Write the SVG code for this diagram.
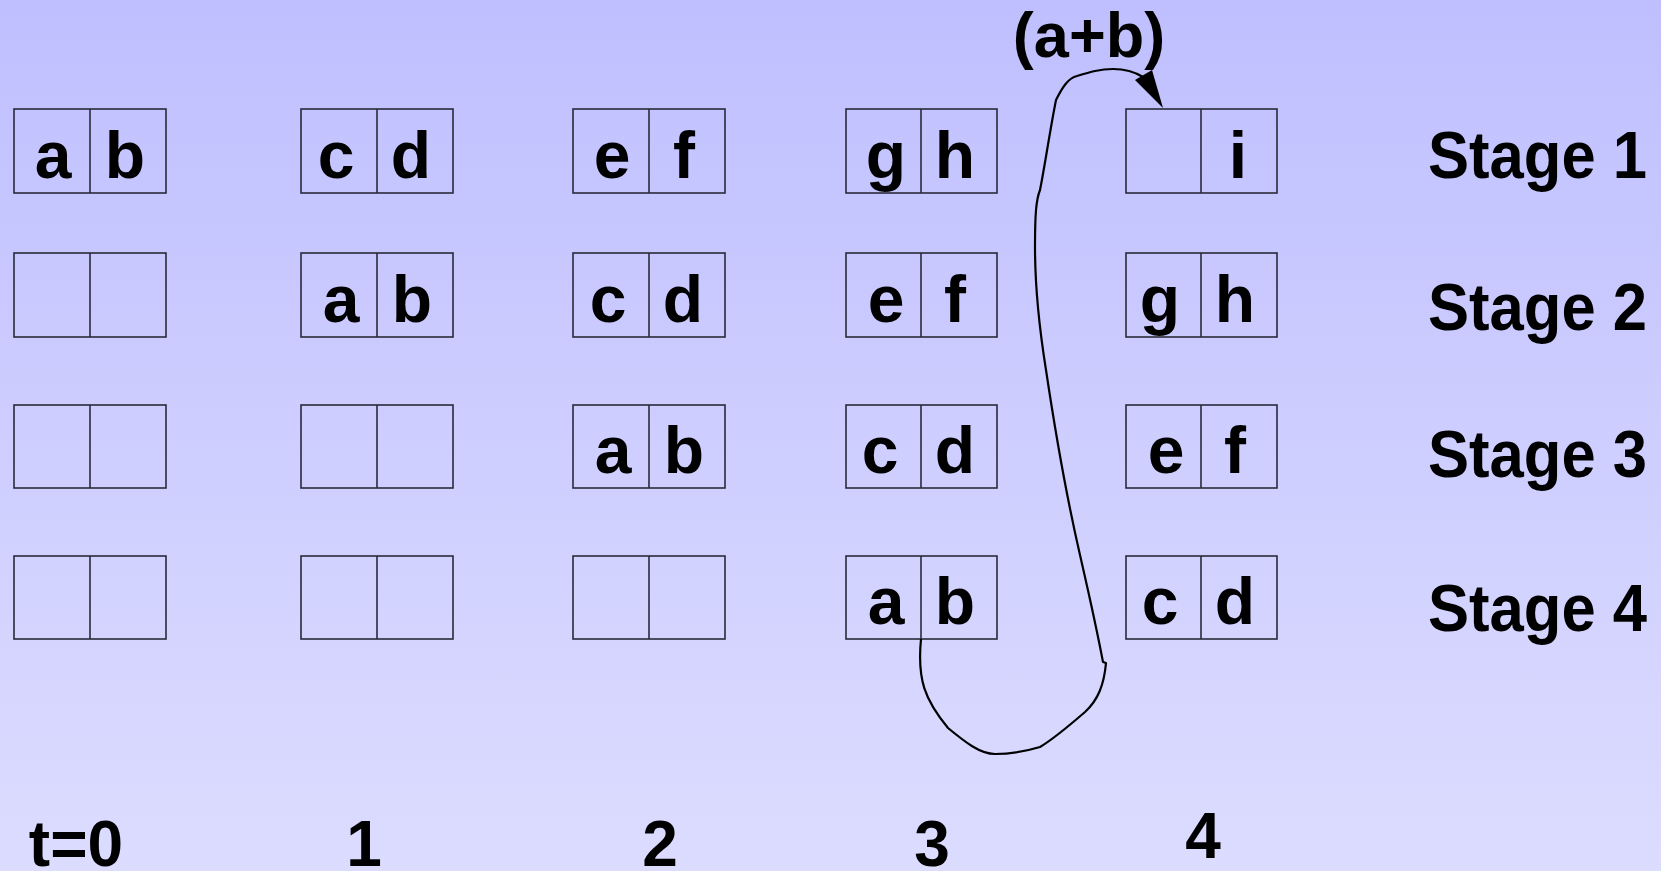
<svg xmlns="http://www.w3.org/2000/svg" width="1661" height="871" viewBox="0 0 1661 871">
<defs>
<linearGradient id="bg" x1="0" y1="0" x2="0" y2="1">
<stop offset="0" stop-color="#bfbfff"/>
<stop offset="1" stop-color="#dcdcff"/>
</linearGradient>
<style>
.box{fill:none;stroke:#2a2a3a;stroke-width:1.6}
.cell{font-family:"Liberation Sans",Arial,sans-serif;font-weight:bold;font-size:66px;fill:#000;text-anchor:middle}
.lbl{font-family:"Liberation Sans",Arial,sans-serif;font-weight:bold;font-size:61px;fill:#000}
.time{font-family:"Liberation Sans",Arial,sans-serif;font-weight:bold;font-size:64px;fill:#000;text-anchor:middle}
.conn{fill:none;stroke:#000;stroke-width:2.2;stroke-linejoin:round}
</style>
</defs>
<rect x="0" y="0" width="1661" height="871" fill="url(#bg)"/>

<!-- Row 1 -->
<g id="r1c1"><rect class="box" x="14" y="109" width="152" height="84"/><line class="box" x1="90" y1="109" x2="90" y2="193"/><text class="cell" x="53" y="178">a</text><text class="cell" x="125" y="178">b</text></g>
<g id="r1c2"><rect class="box" x="301" y="109" width="152" height="84"/><line class="box" x1="377" y1="109" x2="377" y2="193"/><text class="cell" x="336" y="178">c</text><text class="cell" x="411" y="178">d</text></g>
<g id="r1c3"><rect class="box" x="573" y="109" width="152" height="84"/><line class="box" x1="649" y1="109" x2="649" y2="193"/><text class="cell" x="612" y="178">e</text><text class="cell" x="684" y="178">f</text></g>
<g id="r1c4"><rect class="box" x="846" y="109" width="151" height="84"/><line class="box" x1="921" y1="109" x2="921" y2="193"/><text class="cell" x="886" y="178">g</text><text class="cell" x="955" y="178">h</text></g>
<g id="r1c5"><rect class="box" x="1126" y="109" width="151" height="84"/><line class="box" x1="1201" y1="109" x2="1201" y2="193"/><text class="cell" x="1238" y="178">i</text></g>

<!-- Row 2 -->
<g id="r2c1"><rect class="box" x="14" y="253" width="152" height="84"/><line class="box" x1="90" y1="253" x2="90" y2="337"/></g>
<g id="r2c2"><rect class="box" x="301" y="253" width="152" height="84"/><line class="box" x1="377" y1="253" x2="377" y2="337"/><text class="cell" x="341" y="322">a</text><text class="cell" x="412" y="322">b</text></g>
<g id="r2c3"><rect class="box" x="573" y="253" width="152" height="84"/><line class="box" x1="649" y1="253" x2="649" y2="337"/><text class="cell" x="608" y="322">c</text><text class="cell" x="683" y="322">d</text></g>
<g id="r2c4"><rect class="box" x="846" y="253" width="151" height="84"/><line class="box" x1="921" y1="253" x2="921" y2="337"/><text class="cell" x="886" y="322">e</text><text class="cell" x="955" y="322">f</text></g>
<g id="r2c5"><rect class="box" x="1126" y="253" width="151" height="84"/><line class="box" x1="1201" y1="253" x2="1201" y2="337"/><text class="cell" x="1160" y="322">g</text><text class="cell" x="1235" y="322">h</text></g>

<!-- Row 3 -->
<g id="r3c1"><rect class="box" x="14" y="405" width="152" height="83"/><line class="box" x1="90" y1="405" x2="90" y2="488"/></g>
<g id="r3c2"><rect class="box" x="301" y="405" width="152" height="83"/><line class="box" x1="377" y1="405" x2="377" y2="488"/></g>
<g id="r3c3"><rect class="box" x="573" y="405" width="152" height="83"/><line class="box" x1="649" y1="405" x2="649" y2="488"/><text class="cell" x="613" y="473">a</text><text class="cell" x="684" y="473">b</text></g>
<g id="r3c4"><rect class="box" x="846" y="405" width="151" height="83"/><line class="box" x1="921" y1="405" x2="921" y2="488"/><text class="cell" x="880" y="473">c</text><text class="cell" x="955" y="473">d</text></g>
<g id="r3c5"><rect class="box" x="1126" y="405" width="151" height="83"/><line class="box" x1="1201" y1="405" x2="1201" y2="488"/><text class="cell" x="1166" y="473">e</text><text class="cell" x="1235" y="473">f</text></g>

<!-- Row 4 -->
<g id="r4c1"><rect class="box" x="14" y="556" width="152" height="83"/><line class="box" x1="90" y1="556" x2="90" y2="639"/></g>
<g id="r4c2"><rect class="box" x="301" y="556" width="152" height="83"/><line class="box" x1="377" y1="556" x2="377" y2="639"/></g>
<g id="r4c3"><rect class="box" x="573" y="556" width="152" height="83"/><line class="box" x1="649" y1="556" x2="649" y2="639"/></g>
<g id="r4c4"><rect class="box" x="846" y="556" width="151" height="83"/><line class="box" x1="921" y1="556" x2="921" y2="639"/><text class="cell" x="886" y="624">a</text><text class="cell" x="955" y="624">b</text></g>
<g id="r4c5"><rect class="box" x="1126" y="556" width="151" height="83"/><line class="box" x1="1201" y1="556" x2="1201" y2="639"/><text class="cell" x="1160" y="624">c</text><text class="cell" x="1235" y="624">d</text></g>

<!-- Stage labels -->
<g id="stages">
<text class="lbl" transform="translate(1428,178) scale(1.01,1.1)">Stage 1</text>
<text class="lbl" transform="translate(1428,330) scale(1.01,1.1)">Stage 2</text>
<text class="lbl" transform="translate(1428,477) scale(1.01,1.1)">Stage 3</text>
<text class="lbl" transform="translate(1428,631) scale(1.01,1.1)">Stage 4</text>
</g>

<!-- Time labels -->
<g id="times">
<text class="time" x="76" y="866">t=0</text>
<text class="time" x="364" y="866">1</text>
<text class="time" x="660" y="866">2</text>
<text class="time" x="932" y="866">3</text>
<text class="time" x="1203" y="858">4</text>
</g>

<!-- Connector -->
<g id="connectors">
<path class="conn" d="M921,639 C917,680 925,700 948,728 C965,742 980,754 995,754 C1015,754 1030,750 1040,747 C1055,738 1070,725 1085,712 C1098,700 1104,685 1106,663 L1103,662 C1095,620 1088,590 1080,555 C1065,490 1055,430 1046,370 C1038,320 1035,280 1035,247 C1035,215 1036,200 1040,190 C1045,165 1050,130 1056,100 C1062,88 1068,78 1077,76 C1090,72 1100,69 1113,69 C1125,69 1135,72 1143,77"/>
<polygon points="1135,80 1152,70 1163,108" fill="#000"/>
<text id="sum" class="cell" x="1089" y="57" style="font-size:63px">(a+b)</text>
</g>
</svg>
